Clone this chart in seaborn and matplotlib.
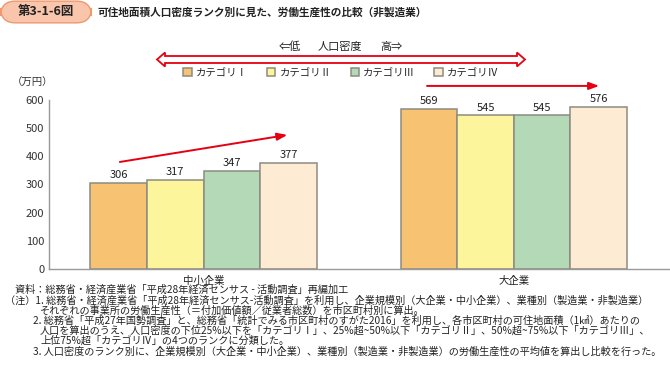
import matplotlib
matplotlib.use("Agg")
import matplotlib.pyplot as plt
from matplotlib.patches import FancyBboxPatch, Polygon
import seaborn as sns
import pandas as pd

# ---------------- data ----------------
companies = ["中小企業", "大企業"]
categories = ["カテゴリⅠ", "カテゴリⅡ", "カテゴリⅢ", "カテゴリⅣ"]
values_small = [306, 317, 347, 377]
values_large = [569, 545, 545, 576]
colors = ["#F8C273", "#FDF59B", "#B3D9B7", "#FDEBD3"]
yticks = [0, 100, 200, 300, 400, 500, 600]

badge = "第3-1-6図"
title = "可住地面積人口密度ランク別に見た、労働生産性の比較（非製造業）"
unit = "（万円）"
notes = [
    "資料：総務省・経済産業省「平成28年経済センサス - 活動調査」再編加工",
    "（注）1. 総務省・経済産業省「平成28年経済センサス-活動調査」を利用し、企業規模別（大企業・中小企業）、業種別（製造業・非製造業）",
    "それぞれの事業所の労働生産性（＝付加価値額／従業者総数）を市区町村別に算出。",
    "2. 総務省「平成27年国勢調査」と、総務省「統計でみる市区町村のすがた2016」を利用し、各市区町村の可住地面積（1㎢）あたりの",
    "人口を算出のうえ、人口密度の下位25%以下を「カテゴリⅠ」、25%超~50%以下「カテゴリⅡ」、50%超~75%以下「カテゴリⅢ」、",
    "上位75%超「カテゴリⅣ」の4つのランクに分類した。",
    "3. 人口密度のランク別に、企業規模別（大企業・中小企業）、業種別（製造業・非製造業）の労働生産性の平均値を算出し比較を行った。",
]

df = pd.DataFrame({
    "size": [companies[0]] * 4 + [companies[1]] * 4,
    "category": categories * 2,
    "value": values_small + values_large,
})

# ---------------- style ----------------
sns.set_style("white")
plt.rcParams["font.family"] = ["Noto Sans CJK JP", "DejaVu Sans"]

W, H = 670, 377
fig = plt.figure(figsize=(W / 100, H / 100), dpi=100)


def fx(px):
    return px / W


def fy(py):
    return 1 - py / H


ax = fig.add_axes([fx(48.5), fy(269), fx(669 - 48.5), (269 - 100) / H])

sns.barplot(data=df, x="size", y="value", hue="category", hue_order=categories,
            order=companies, palette=colors, width=0.73, edgecolor="#8C8C82",
            linewidth=1.1, ax=ax, saturation=1)

for cont in ax.containers:
    ax.bar_label(cont, fmt="%d", padding=2, fontsize=8, color="#222222")

ax.set_xlim(-0.5, 1.5)
ax.set_ylim(0, 600)
ax.set_yticks(yticks)
ax.set_xlabel("")
ax.set_ylabel("")
for s in ["top", "right"]:
    ax.spines[s].set_visible(False)
for s in ["left", "bottom"]:
    ax.spines[s].set_color("#999999")
    ax.spines[s].set_linewidth(1.0)
ax.tick_params(axis="y", direction="in", length=3, color="#888888",
               labelsize=8, labelcolor="#333333", pad=3)
ax.tick_params(axis="x", which="major", length=0, labelsize=7.5,
               labelcolor="#222222", pad=5)
ax.set_xticks([-0.5, 0.5, 1.5], minor=True)
ax.tick_params(axis="x", which="minor", direction="in", length=3, color="#888888")

# legend
handles, labels = ax.get_legend_handles_labels()
ax.legend(handles, labels, ncol=4, loc="center", bbox_to_anchor=(fx(341), fy(73)),
          bbox_transform=fig.transFigure, frameon=False, fontsize=7.5,
          handlelength=0.8, handleheight=0.8, handletextpad=0.4,
          columnspacing=1.85, borderaxespad=0)

# trend arrows (data coords)
ax.annotate("", xy=(0.27, 476), xytext=(-0.27, 380), xycoords="data",
            annotation_clip=False,
            arrowprops=dict(arrowstyle="-|>,head_length=0.6,head_width=0.22",
                            color="#E60012", lw=1.4, shrinkA=0, shrinkB=0))
ax.annotate("", xy=(1.275, 650), xytext=(0.72, 650), xycoords="data",
            annotation_clip=False,
            arrowprops=dict(arrowstyle="-|>,head_length=0.6,head_width=0.22",
                            color="#E60012", lw=1.4, shrinkA=0, shrinkB=0))

# hollow double arrow (figure pixel coords)
x0, x1, yc = 157, 525, 59.5
hl, sh, hh = 8, 3.5, 7
pts_px = [(x0, yc), (x0 + hl, yc - hh), (x0 + hl, yc - sh), (x1 - hl, yc - sh),
          (x1 - hl, yc - hh), (x1, yc), (x1 - hl, yc + hh), (x1 - hl, yc + sh),
          (x0 + hl, yc + sh), (x0 + hl, yc + hh)]
fig.patches.append(Polygon([(fx(a), fy(b)) for a, b in pts_px], closed=True,
                           transform=fig.transFigure, facecolor="white",
                           edgecolor="#E60012", linewidth=1.3))
fig.text(fx(290), fy(47), "⇐低", ha="center", va="center", fontsize=8, color="#222222")
fig.text(fx(340), fy(47), "人口密度", ha="center", va="center", fontsize=8, color="#222222")
fig.text(fx(391), fy(47), "高⇒", ha="center", va="center", fontsize=8, color="#222222")

# unit label
fig.text(fx(33), fy(83), unit, ha="center", va="center", fontsize=7.5, color="#333333")

# title badge
fig.patches.append(FancyBboxPatch((fx(4), fy(19.5)), fx(84), (19.5 - 4.5) / H,
                                  boxstyle="round,pad=0.005,rounding_size=0.022",
                                  transform=fig.transFigure, facecolor="#F9C6AC",
                                  edgecolor="#EE996F", linewidth=1.0,
                                  mutation_aspect=W / H))
fig.text(fx(46), fy(12), badge, ha="center", va="center", fontsize=9,
         fontweight="bold", color="#222222")
fig.text(fx(97), fy(12), title, ha="left", va="center", fontsize=7.7,
         fontweight="bold", color="#222222")

# notes
note_x = [15, 5, 40, 33, 40, 40, 33]
note_y = [290, 301, 311, 321, 331, 341, 352]
for t, x, y in zip(notes, note_x, note_y):
    fig.text(fx(x), fy(y), t, ha="left", va="center", fontsize=7.3, color="#222222")

fig.savefig("out.png", dpi=100)
